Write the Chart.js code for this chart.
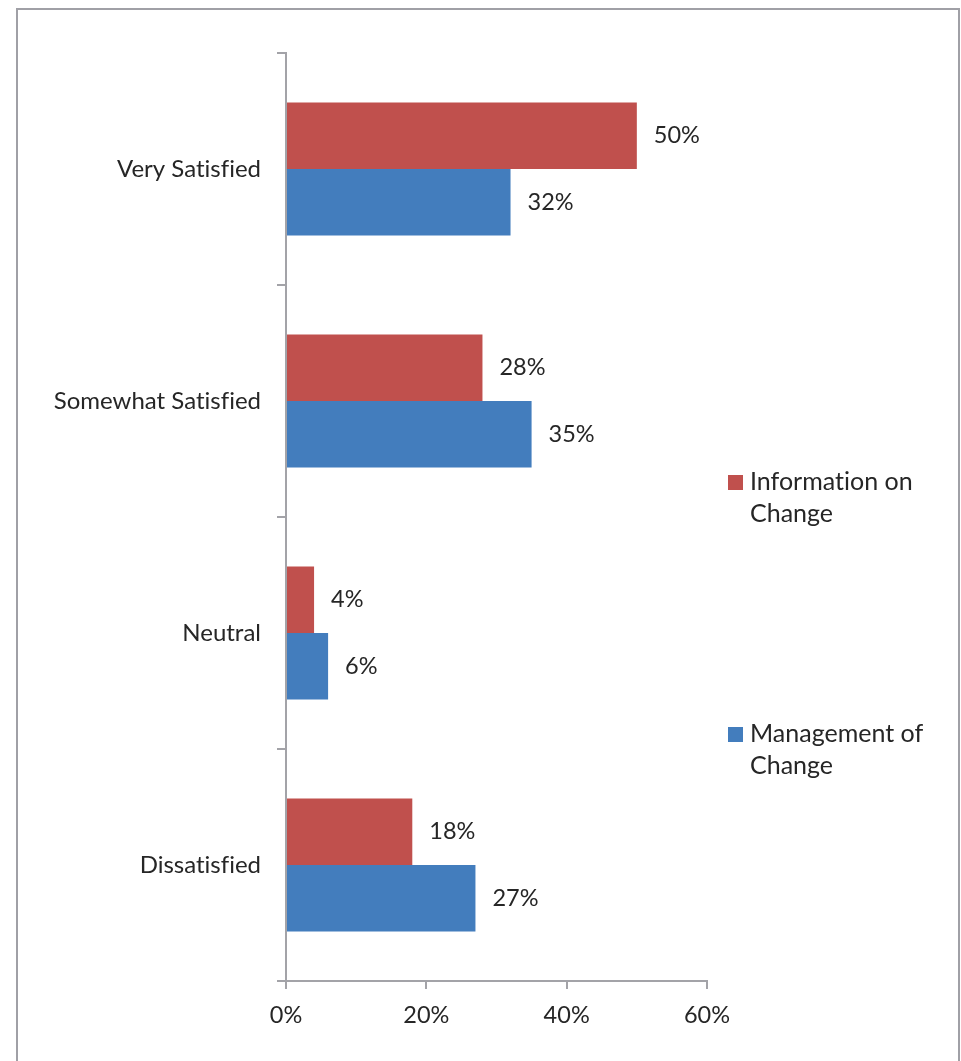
<!DOCTYPE html>
<html>
<head>
<meta charset="utf-8">
<script src="https://cdn.jsdelivr.net/npm/chart.js@4"></script>
<style>
  html, body { margin: 0; padding: 0; background: #fff; overflow: hidden; }
</style>
</head>
<body>
<canvas id="chart" width="961" height="1061"></canvas>
<script>
const categories = ['Very Satisfied', 'Somewhat Satisfied', 'Neutral', 'Dissatisfied'];
const seriesNames = ['Information on Change', 'Management of Change'];
const legendLines = [['Information on', 'Change'], ['Management of', 'Change']];
const infoValues = [50, 28, 4, 18];
const mgmtValues = [32, 35, 6, 27];
const xTickValues = [0, 20, 40, 60];

const FONT = 'Lato, "Open Sans", sans-serif';
const TEXT = '#262626';
const AXIS = '#a3a3a8';

// outer frame like the exported chart box
const frame = {
  id: 'frame',
  beforeDraw(chart) {
    const ctx = chart.ctx;
    ctx.textRendering = 'optimizeSpeed'; // no fi ligature
    ctx.save();
    ctx.fillStyle = '#fff';
    ctx.fillRect(0, 0, chart.width, chart.height);
    ctx.strokeStyle = '#a0a0a6';
    ctx.lineWidth = 2;
    ctx.strokeRect(17, 9, 942, 1070);
    ctx.restore();
  }
};

const dataLabels = {
  id: 'dataLabels',
  afterDatasetsDraw(chart) {
    const ctx = chart.ctx;
    ctx.save();
    ctx.font = '23.5px ' + FONT;
    ctx.fillStyle = TEXT;
    ctx.textAlign = 'left';
    ctx.textBaseline = 'middle';
    chart.data.datasets.forEach((ds, i) => {
      chart.getDatasetMeta(i).data.forEach((bar, j) => {
        ctx.fillText(ds.data[j] + '%', bar.x + 17, bar.y);
      });
    });
    ctx.restore();
  }
};

// Excel style legend: wrapped labels, items spread out on the right
const sideLegend = {
  id: 'sideLegend',
  afterDraw(chart) {
    const ctx = chart.ctx;
    const area = chart.chartArea;
    const x = area.right + 21;
    const tops = [475, 727];
    ctx.save();
    ctx.font = '25px ' + FONT;
    ctx.textBaseline = 'middle';
    chart.data.datasets.forEach((ds, i) => {
      ctx.fillStyle = ds.backgroundColor;
      ctx.fillRect(x, tops[i], 15, 15);
      ctx.fillStyle = TEXT;
      legendLines[i].forEach((line, k) => {
        ctx.fillText(line, x + 22, tops[i] + 7 + k * 32);
      });
    });
    ctx.restore();
  }
};

new Chart(document.getElementById('chart'), {
  type: 'bar',
  data: {
    labels: categories,
    datasets: [
      { label: seriesNames[0], data: infoValues, backgroundColor: '#C0504D' },
      { label: seriesNames[1], data: mgmtValues, backgroundColor: '#437DBD' }
    ]
  },
  options: {
    indexAxis: 'y',
    responsive: false,
    animation: false,
    layout: { padding: { top: 53, right: 254, left: 0, bottom: 0 } },
    datasets: { bar: { categoryPercentage: 0.573, barPercentage: 1 } },
    plugins: {
      legend: { display: false },
      tooltip: { enabled: false }
    },
    scales: {
      x: {
        min: 0,
        max: 60,
        afterBuildTicks: s => { s.ticks = xTickValues.map(v => ({ value: v })); },
        afterFit: s => { s.height = 80; },
        ticks: {
          callback: v => v + '%',
          color: TEXT,
          font: { family: FONT, size: 23.5 },
          padding: 12
        },
        grid: { drawOnChartArea: false, tickLength: 8, color: AXIS, lineWidth: 2 },
        border: { color: AXIS, width: 2 }
      },
      y: {
        afterFit: s => { s.width = 286; },
        ticks: {
          color: TEXT,
          font: { family: FONT, size: 24 },
          padding: 16
        },
        grid: { drawOnChartArea: false, tickLength: 9, color: AXIS, lineWidth: 2, offset: true },
        border: { color: AXIS, width: 2 }
      }
    }
  },
  plugins: [frame, dataLabels, sideLegend]
});
</script>
</body>
</html>
